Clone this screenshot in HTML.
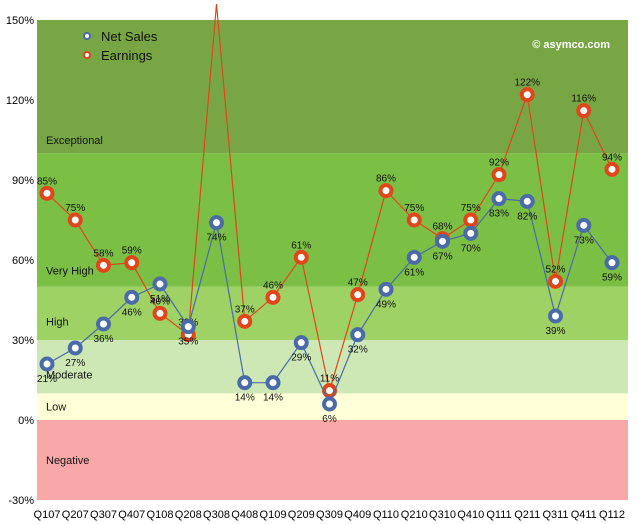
<!DOCTYPE html>
<html><head><meta charset="utf-8"><style>
body{margin:0;background:#fff;}
svg{display:block;font-family:"Liberation Sans",sans-serif;}
</style></head><body>
<svg id="chart" width="639" height="524"></svg>
<script>
const categories=["Q107","Q207","Q307","Q407","Q108","Q208","Q308","Q408","Q109","Q209","Q309","Q409","Q110","Q210","Q310","Q410","Q111","Q211","Q311","Q411","Q112"];
const netSales=[21,27,36,46,51,35,74,14,14,29,6,32,49,61,67,70,83,82,39,73,59];
const earnings=[85,75,58,59,40,32,156,37,46,61,11,47,86,75,68,75,92,122,52,116,94];
const yTicks=[-30,0,30,60,90,120,150];
const bands=[{lo:-30,hi:0,c:"#f9a8a8",n:"Negative",ly:-15},{lo:0,hi:10,c:"#ffffd8",n:"Low",ly:5},{lo:10,hi:30,c:"#cde8b5",n:"Moderate",ly:17},{lo:30,hi:50,c:"#9fd264",n:"High",ly:37},{lo:50,hi:100,c:"#7bbf44",n:"Very High",ly:56},{lo:100,hi:150,c:"#79a644",n:"Exceptional",ly:105}];
const NS="http://www.w3.org/2000/svg";
const svg=document.getElementById('chart');
const L=37,R=628,T=20,B=500;
const y=v=>420-(v)*(400/150);
const x=i=>47+i*28.25;
function mk(t,a,txt){const e=document.createElementNS(NS,t);for(const k in a)e.setAttribute(k,a[k]);if(txt!==undefined)e.textContent=txt;svg.appendChild(e);return e;}
bands.forEach(b=>{
 const r=mk('rect',{x:L,y:y(b.hi),width:R-L,height:y(b.lo)-y(b.hi),fill:b.c});
 
 
 const t=mk('text',{x:46,y:y(b.ly)+4,'font-size':11,fill:'#111'},b.n);
 
 
});
yTicks.forEach(v=>{
 const t=mk('text',{x:34,y:y(v)+4,'font-size':11,'text-anchor':'end',fill:'#000'},v+'%');
 
 
});
categories.forEach((c,i)=>{
 const t=mk('text',{x:x(i),y:518,'font-size':11,'text-anchor':'middle',fill:'#000'},c);
 
 
});
function series(vals,col,name,off){
 const p=mk('polyline',{points:vals.map((v,i)=>x(i)+','+y(v)).join(' '),fill:'none',stroke:col,'stroke-width':1.2});
 
 
 vals.forEach((v,i)=>{
  if(v>150)return;
  const c=mk('circle',{cx:x(i),cy:y(v),r:5.5,fill:'#fff',stroke:col,'stroke-width':4});
  
  
  const t=mk('text',{x:x(i),y:y(v)+off,'font-size':10,'text-anchor':'middle',fill:'#111'},v+'%');
  
  
 });
}
series(earnings,'#e0461c','earnings',-9);
series(netSales,'#4a6aa8','net-sales',18);
[['Net Sales','#4a6aa8',36],['Earnings','#e0461c',55]].forEach(([n,c,yy])=>{
 const ci=mk('circle',{cx:87,cy:yy,r:3,fill:'#fff',stroke:c,'stroke-width':2});
 
 
 const t=mk('text',{x:101,y:yy+5,'font-size':13,fill:'#111'},n);
 
 
});
const w=mk('text',{x:610,y:48,'font-size':11,'font-weight':'bold','text-anchor':'end',fill:'#fff'},'© asymco.com');


</script>
</body></html>
